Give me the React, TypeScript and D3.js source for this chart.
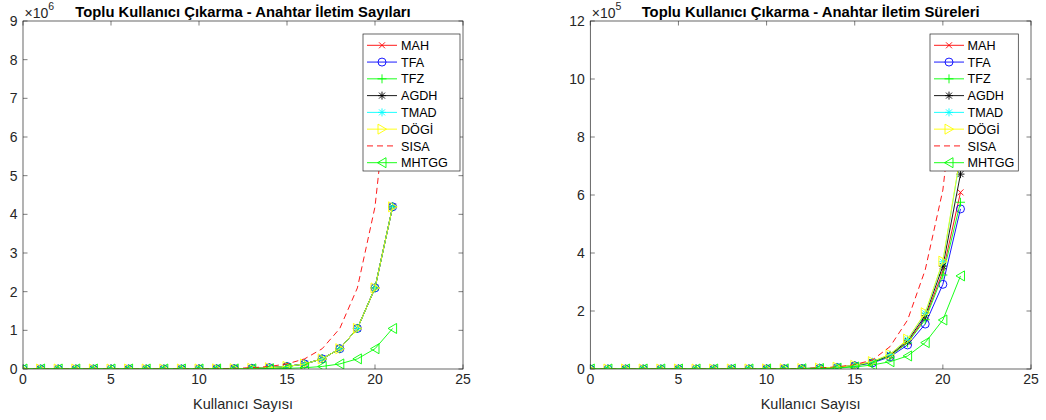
import React from "react";
import * as d3 from "d3";

// ---------- data ----------
const users = [0, 1, 2, 3, 4, 5, 6, 7, 8, 9, 10, 11, 12, 13, 14, 15, 16, 17, 18, 19, 20, 21];

const xTicks = [0, 5, 10, 15, 20, 25];
const countYTicks = [0, 1, 2, 3, 4, 5, 6, 7, 8, 9];
const timeYTicks = [0, 2, 4, 6, 8, 10, 12];

const seriesNames = ["MAH", "TFA", "TFZ", "AGDH", "TMAD", "DÖGİ", "SISA", "MHTGG"];

// Left panel: key transmission counts
const countShared = [2, 4, 8, 16, 32, 64, 128, 256, 512, 1024, 2048, 4096, 8192, 16384, 32768, 65536, 131072, 262144, 524288, 1048576, 2097152, 4194304];
const countSISA = [4, 8, 16, 32, 64, 128, 256, 512, 1024, 2048, 4096, 8192, 16384, 32768, 65536, 131072, 262144, 524288, 1048576, 2097152, 4194304, 8388608];
const countMHTGG = [0.5, 1, 2, 4, 8, 16, 32, 64, 128, 256, 512, 1024, 2048, 4096, 8192, 16384, 32768, 65536, 131072, 262144, 524288, 1048576];

// Right panel: key transmission times
const timeMAH = [0.5, 1, 1.9, 3.6, 7, 13.6, 26.5, 51, 100, 195, 380, 745, 1450, 2850, 5600, 11800, 23000, 46000, 93000, 176000, 336000, 609000];
const timeTFA = [0.4, 0.9, 1.7, 3.3, 6.4, 12.5, 24.4, 47, 92, 180, 350, 690, 1340, 2630, 5180, 10800, 21000, 42000, 83000, 155000, 292000, 552000];
const timeTFZ = [0.5, 0.9, 1.8, 3.5, 6.8, 13.2, 25.8, 50, 97, 190, 370, 725, 1410, 2770, 5450, 11500, 22500, 45000, 90000, 170000, 324000, 575000];
const timeAGDH = [0.5, 1, 2, 3.8, 7.4, 14.3, 28, 54, 105, 205, 400, 780, 1520, 2980, 5850, 12300, 24000, 48000, 97000, 184000, 355000, 672000];
const timeTMAD = [0.6, 1.1, 2.1, 4, 7.8, 15, 29, 56, 110, 215, 420, 820, 1600, 3150, 6200, 12500, 25000, 50000, 102000, 192000, 370000, 735000];
const timeDOGI = [0.6, 1.2, 2.2, 4.1, 8, 15.5, 30, 58, 113, 220, 430, 840, 1640, 3200, 6300, 12800, 25500, 51000, 103000, 194000, 372000, 740000];
const timeSISA = [0.5, 0.9, 1.8, 3.5, 7, 14, 27, 55, 110, 220, 450, 900, 1800, 3700, 7500, 15000, 31000, 77000, 169000, 342000, 617000, 1150000];
const timeMHTGG = [0.3, 0.5, 1, 1.9, 3.7, 7.2, 14, 27, 53, 104, 205, 400, 790, 1560, 3100, 7000, 14000, 25000, 45000, 91000, 169000, 321000];

// ---------- styles ----------
type Marker = "x" | "o" | "+" | "*" | ">" | "<" | "none";
interface Style { color: string; marker: Marker; dash?: string }
const styles: Style[] = [
  { color: "#ff0000", marker: "x" },
  { color: "#0000ff", marker: "o" },
  { color: "#00ff00", marker: "+" },
  { color: "#000000", marker: "*" },
  { color: "#00ffff", marker: "*" },
  { color: "#ffff00", marker: ">" },
  { color: "#ff0000", marker: "none", dash: "6,4" },
  { color: "#00ff00", marker: "<" },
];

const AXC = "#262626";
const FONT = "'Liberation Sans', Arial, Helvetica, sans-serif";
const LW = 0.9;

function MarkerShape({ m, x, y, c }: { m: Marker; x: number; y: number; c: string }) {
  const p = { stroke: c, strokeWidth: LW, fill: "none" };
  if (m === "x") {
    const h = 3;
    return <path d={`M${x - h},${y - h}L${x + h},${y + h}M${x - h},${y + h}L${x + h},${y - h}`} {...p} />;
  }
  if (m === "+") {
    const h = 4.5;
    return <path d={`M${x - h},${y}L${x + h},${y}M${x},${y - h}L${x},${y + h}`} {...p} />;
  }
  if (m === "*") {
    const h = 4, d = 3;
    return (
      <path
        d={`M${x - h},${y}L${x + h},${y}M${x},${y - h}L${x},${y + h}M${x - d},${y - d}L${x + d},${y + d}M${x - d},${y + d}L${x + d},${y - d}`}
        {...p}
      />
    );
  }
  if (m === "o") return <circle cx={x} cy={y} r={4} {...p} />;
  if (m === ">") return <path d={`M${x + 4.5},${y}L${x - 4},${y - 5}L${x - 4},${y + 5}Z`} {...p} />;
  if (m === "<") return <path d={`M${x - 4.5},${y}L${x + 4},${y - 5}L${x + 4},${y + 5}Z`} {...p} />;
  return null;
}

interface PanelProps {
  id: string;
  left: number;
  right: number;
  title: string;
  yMax: number;
  yTicks: number[];
  exponent: number;
  data: number[][];
  legendX: number;
  legendW: number;
  legendLineX: number;
  legendTextX: number;
}

const TOP = 21;
const BOTTOM = 369;

function Panel(p: PanelProps) {
  const x = d3.scaleLinear().domain([0, 25]).range([p.left, p.right]);
  const y = d3.scaleLinear().domain([0, p.yMax]).range([BOTTOM, TOP]);
  const scale = Math.pow(10, p.exponent);
  const line = d3
    .line<number>()
    .x((_, i) => x(users[i]))
    .y((v) => y(v));
  const tl = 4.5;
  const cx = (p.left + p.right) / 2;
  const rowY = (i: number) => 45.3 + i * 16.77;
  return (
    <g>
      <defs>
        <clipPath id={p.id}>
          <rect x={p.left} y={TOP} width={p.right - p.left} height={BOTTOM - TOP} />
        </clipPath>
      </defs>
      <rect x={p.left} y={TOP} width={p.right - p.left} height={BOTTOM - TOP} fill="#fff" />
      {/* ticks */}
      {xTicks.map((t) => (
        <g key={"xt" + t}>
          <line x1={x(t)} x2={x(t)} y1={BOTTOM} y2={BOTTOM - tl} stroke={AXC} strokeWidth={0.6} />
          <line x1={x(t)} x2={x(t)} y1={TOP} y2={TOP + tl} stroke={AXC} strokeWidth={0.6} />
          <text x={x(t)} y={383.5} textAnchor="middle" fontSize={14} fill={AXC} fontFamily={FONT}>
            {t}
          </text>
        </g>
      ))}
      {p.yTicks.map((t) => (
        <g key={"yt" + t}>
          <line x1={p.left} x2={p.left + tl} y1={y(t * scale)} y2={y(t * scale)} stroke={AXC} strokeWidth={0.6} />
          <line x1={p.right} x2={p.right - tl} y1={y(t * scale)} y2={y(t * scale)} stroke={AXC} strokeWidth={0.6} />
          <text x={p.left - 5.5} y={y(t * scale) + 5} textAnchor="end" fontSize={14} fill={AXC} fontFamily={FONT}>
            {t}
          </text>
        </g>
      ))}
      {/* series */}
      <g clipPath={`url(#${p.id})`}>
        {p.data.map((vals, si) => {
          const st = styles[si];
          return (
            <g key={"s" + si}>
              <path d={line(vals) || ""} fill="none" stroke={st.color} strokeWidth={LW} strokeDasharray={st.dash} />
              {st.marker !== "none" &&
                vals.map((v, i) => <MarkerShape key={i} m={st.marker} x={x(users[i])} y={y(v)} c={st.color} />)}
            </g>
          );
        })}
      </g>
      {/* box */}
      <rect x={p.left} y={TOP} width={p.right - p.left} height={BOTTOM - TOP} fill="none" stroke={AXC} strokeWidth={0.7} />
      {/* exponent */}
      <text x={p.left + 1.5} y={17.5} fontSize={14} fill={AXC} fontFamily={FONT}>
        ×10
        <tspan fontSize={10.5} dy={-8}>
          {p.exponent}
        </tspan>
      </text>
      {/* title */}
      <text x={cx} y={16.5} textAnchor="middle" fontSize={14.8} fontWeight="bold" fill="#000" fontFamily={FONT}>
        {p.title}
      </text>
      {/* x label */}
      <text x={cx} y={408.5} textAnchor="middle" fontSize={14.5} fill={AXC} fontFamily={FONT}>
        Kullanıcı Sayısı
      </text>
      {/* legend */}
      <rect x={p.legendX} y={34} width={p.legendW} height={137} fill="#fff" stroke={AXC} strokeWidth={0.7} />
      {seriesNames.map((n, i) => {
        const st = styles[i];
        const ly = rowY(i);
        return (
          <g key={"l" + n}>
            <line
              x1={p.legendLineX}
              x2={p.legendLineX + 30}
              y1={ly}
              y2={ly}
              stroke={st.color}
              strokeWidth={LW}
              strokeDasharray={st.dash}
            />
            {st.marker !== "none" && <MarkerShape m={st.marker} x={p.legendLineX + 15} y={ly} c={st.color} />}
            <text x={p.legendTextX} y={ly + 4.6} fontSize={12.6} fill="#000" fontFamily={FONT}>
              {n}
            </text>
          </g>
        );
      })}
    </g>
  );
}

export default function App() {
  const countData = [countShared, countShared, countShared, countShared, countShared, countShared, countSISA, countMHTGG];
  const timeData = [timeMAH, timeTFA, timeTFZ, timeAGDH, timeTMAD, timeDOGI, timeSISA, timeMHTGG];
  return (
    <svg
      width={1046}
      height={420}
      style={{ position: "absolute", left: 0, top: 0, background: "#fff" }}
      xmlns="http://www.w3.org/2000/svg"
    >
      <rect width={1046} height={420} fill="#fff" />
      <Panel
        id="clipL"
        left={23}
        right={463}
        title="Toplu Kullanıcı Çıkarma - Anahtar İletim Sayıları"
        yMax={9e6}
        yTicks={countYTicks}
        exponent={6}
        data={countData}
        legendX={363}
        legendW={97}
        legendLineX={367}
        legendTextX={401}
      />
      <Panel
        id="clipR"
        left={590.3}
        right={1031}
        title="Toplu Kullanıcı Çıkarma - Anahtar İletim Süreleri"
        yMax={12e5}
        yTicks={timeYTicks}
        exponent={5}
        data={timeData}
        legendX={930}
        legendW={88.3}
        legendLineX={934}
        legendTextX={967.5}
      />
    </svg>
  );
}
